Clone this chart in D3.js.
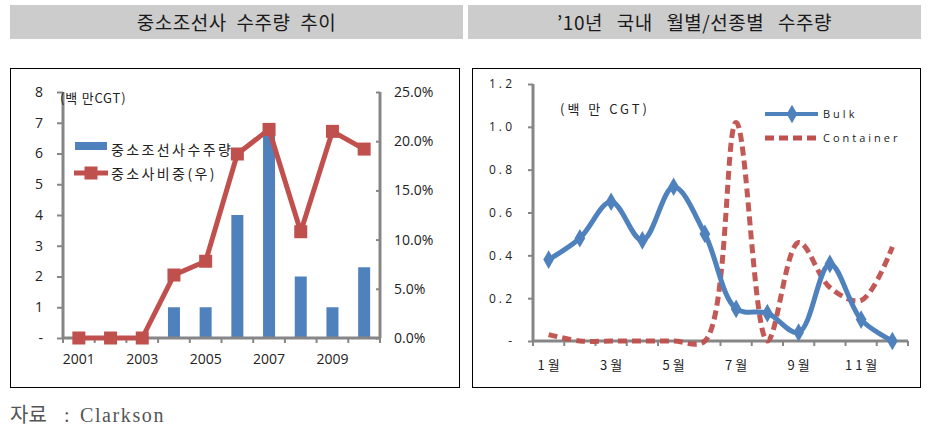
<!DOCTYPE html>
<html><head><meta charset="utf-8">
<script src="https://cdn.jsdelivr.net/npm/d3@7"></script>
<style>body{margin:0;background:#fff}svg{display:block}</style>
</head><body>
<script>
// ---- Data: left chart ----
const years = ["2001","2002","2003","2004","2005","2006","2007","2008","2009","2010"];
const yearLabels = ["2001","2003","2005","2007","2009"];
const orderVolume = [0,0,0,1,1,4,6.8,2,1,2.3];           // 백만 CGT
const smallShare = [0,0,0,6.4,7.8,18.7,21.2,10.8,21.0,19.2]; // %
const leftTicks = [0,1,2,3,4,5,6,7,8];
const rightTicks = [0,5,10,15,20,25];
// ---- Data: right chart ----
const months = ["1","2","3","4","5","6","7","8","9","10","11","12"];
const monthLabels = ["1","3","5","7","9","11"];
const bulk = [0.38,0.48,0.65,0.47,0.72,0.50,0.15,0.13,0.04,0.36,0.10,0.00];
const container = [0.03,0.00,0.00,0.00,0.00,0.00,1.02,0.00,0.46,0.25,0.19,0.44];
const rTicks = [0,0.2,0.4,0.6,0.8,1.0,1.2];

const W=936,H=436;
const svg=d3.select("body").append("svg").attr("width",W).attr("height",H);
const KR="'Noto Sans CJK KR', 'Noto Sans', sans-serif";
const NUM="'Open Sans','Liberation Sans',sans-serif";
const blue="#4F81BD", red="#C0504D", axisC="#868686";

// Titles
function titleBox(x,w,txt,ws){
  svg.append("rect").attr("x",x).attr("y",5).attr("width",w).attr("height",34).attr("fill","#cccccc");
  svg.append("text").attr("x",x+w/2).attr("y",30).attr("text-anchor","middle")
    .attr("font-family",KR).attr("font-size",19).attr("letter-spacing",0.5).attr("word-spacing",ws)
    .attr("fill","#1a1a1a").text(txt);
}
titleBox(10,453,"중소조선사 수주량 추이",5);
titleBox(468,453,"’10년 국내 월별/선종별 수주량",9);

// Frames
svg.append("rect").attr("x",10.5).attr("y",68.5).attr("width",449).attr("height",319).attr("fill","none").attr("stroke","#000").attr("stroke-width",1);
svg.append("rect").attr("x",472.5).attr("y",68.5).attr("width",448).attr("height",319).attr("fill","none").attr("stroke","#000").attr("stroke-width",1);

// ---------- Left chart ----------
const L = svg.append("g");
const xb = d3.scaleBand().domain(years).range([63,380]);
const yL = d3.scaleLinear().domain([0,8]).range([338,92]);
const yR = d3.scaleLinear().domain([0,25]).range([338,92]);

// bars
L.selectAll("rect.bar").data(years).join("rect")
  .attr("x",d=>xb(d)+xb.bandwidth()/2-6).attr("width",12)
  .attr("y",(d,i)=>yL(orderVolume[i])).attr("height",(d,i)=>yL(0)-yL(orderVolume[i]))
  .attr("fill",blue);

// left axis
const axL = d3.axisLeft(yL).tickValues(leftTicks).tickSize(6).tickPadding(14)
  .tickFormat(d=>d===0?"-":d);
const gL=L.append("g").attr("transform","translate(63,0)").call(axL);
gL.select(".domain").attr("stroke",axisC).attr("stroke-width",3).attr("d","M0,92V338");
gL.selectAll(".tick line").attr("stroke",axisC).attr("stroke-width",2);
gL.selectAll(".tick text").attr("font-family",NUM).attr("font-size",14).attr("fill","#222");

// right axis
const axR = d3.axisRight(yR).tickValues(rightTicks).tickSize(-4).tickPadding(14)
  .tickFormat(d=>d3.format(".1f")(d)+"%");
const gR=L.append("g").attr("transform","translate(380,0)").call(axR);
gR.select(".domain").attr("stroke",axisC).attr("stroke-width",3).attr("d","M0,92V338");
gR.selectAll(".tick line").attr("stroke",axisC).attr("stroke-width",2);
gR.selectAll(".tick text").attr("font-family",NUM).attr("font-size",14).attr("fill","#222");

// x axis
const axX = d3.axisBottom(xb).tickValues(years).tickSize(0).tickPadding(16)
  .tickFormat(d=>yearLabels.includes(d)?d:"");
const gX=L.append("g").attr("transform","translate(0,338)").call(axX);
gX.select(".domain").attr("stroke",axisC).attr("stroke-width",3).attr("d","M63,0H380");
gX.selectAll(".tick text").attr("font-family",NUM).attr("font-size",14).attr("fill","#222");
L.append("g").selectAll("line").data(years.concat(["end"])).join("line")
  .attr("x1",(d,i)=>63+i*xb.bandwidth()).attr("x2",(d,i)=>63+i*xb.bandwidth())
  .attr("y1",338).attr("y2",343).attr("stroke",axisC).attr("stroke-width",2);

// line
const lineL=d3.line().x((d,i)=>xb(years[i])+xb.bandwidth()/2).y(d=>yR(d));
L.append("path").datum(smallShare).attr("d",lineL).attr("fill","none").attr("stroke",red).attr("stroke-width",5).attr("stroke-linejoin","round");
L.selectAll("rect.mk").data(smallShare).join("rect")
  .attr("x",(d,i)=>xb(years[i])+xb.bandwidth()/2-6.5).attr("y",d=>yR(d)-6.5)
  .attr("width",13).attr("height",13).attr("fill",red);

// unit label & legend
L.append("text").attr("x",60).attr("y",103).attr("font-family",KR).attr("font-size",13).attr("letter-spacing",0.8).attr("fill","#222").text("(백 만CGT)");
L.append("rect").attr("x",75).attr("y",142).attr("width",32).attr("height",8).attr("fill",blue);
L.append("text").attr("x",111).attr("y",155).attr("font-family",KR).attr("font-size",14).attr("letter-spacing",2.4).attr("fill","#222").text("중소조선사수주량");
L.append("line").attr("x1",74).attr("x2",108).attr("y1",173).attr("y2",173).attr("stroke",red).attr("stroke-width",5);
L.append("rect").attr("x",84.5).attr("y",166.5).attr("width",13).attr("height",13).attr("fill",red);
L.append("text").attr("x",111).attr("y",179).attr("font-family",KR).attr("font-size",14).attr("letter-spacing",2.4).attr("fill","#222").text("중소사비중(우)");

// ---------- Right chart ----------
const R = svg.append("g");
const xm = d3.scaleBand().domain(months).range([533,908]);
const yM = d3.scaleLinear().domain([0,1.2]).range([341,84]);
const axM = d3.axisLeft(yM).tickValues(rTicks).tickSize(5).tickPadding(16)
  .tickFormat(d=>d===0?"-":d3.format(".1f")(d).split("").join(" "));
const gM=R.append("g").attr("transform","translate(533,0)").call(axM);
gM.select(".domain").attr("stroke",axisC).attr("stroke-width",3).attr("d","M0,84V341");
gM.selectAll(".tick line").attr("stroke",axisC).attr("stroke-width",2);
gM.selectAll(".tick text").attr("font-family",NUM).attr("font-size",12).attr("fill","#222");

const axMX = d3.axisBottom(xm).tickValues(months).tickSize(0).tickPadding(20)
  .tickFormat(d=>monthLabels.includes(d)?d.split("").join(" ")+" 월":"");
const gMX=R.append("g").attr("transform","translate(0,341)").call(axMX);
gMX.select(".domain").attr("stroke",axisC).attr("stroke-width",3).attr("d","M533,0H908");
gMX.selectAll(".tick text").attr("font-family",KR).attr("font-size",13).attr("fill","#222");
R.append("g").selectAll("line").data(months.concat(["end"])).join("line")
  .attr("x1",(d,i)=>533+i*xm.bandwidth()).attr("x2",(d,i)=>533+i*xm.bandwidth())
  .attr("y1",341).attr("y2",346).attr("stroke",axisC).attr("stroke-width",2);

const lineM=d3.line().x((d,i)=>xm(months[i])+xm.bandwidth()/2).y(d=>yM(d)).curve(d3.curveCatmullRom.alpha(0.5));
R.append("path").datum(container).attr("d",lineM).attr("fill","none").attr("stroke",red).attr("stroke-width",5).attr("stroke-dasharray","9,5").attr("opacity",0.95);
R.append("path").datum(bulk).attr("d",lineM).attr("fill","none").attr("stroke",blue).attr("stroke-width",5).attr("stroke-linejoin","round");
const sym=d3.symbol().type(d3.symbolDiamond).size(100);
R.selectAll("path.dm").data(bulk).join("path")
  .attr("transform",(d,i)=>`translate(${xm(months[i])+xm.bandwidth()/2},${yM(d)})`)
  .attr("d",sym).attr("fill",blue);

R.append("text").attr("x",560).attr("y",114).attr("font-family",KR).attr("font-size",13).attr("letter-spacing",3).attr("fill","#222").text("(백 만 CGT)");
R.append("line").attr("x1",765).attr("x2",818).attr("y1",114).attr("y2",114).attr("stroke",blue).attr("stroke-width",4);
R.append("path").attr("transform","translate(792,114)").attr("d",sym).attr("fill",blue);
R.append("text").attr("x",823).attr("y",118).attr("font-family",NUM).attr("font-size",11).attr("letter-spacing",3).attr("fill","#222").text("Bulk");
R.append("line").attr("x1",765).attr("x2",818).attr("y1",138).attr("y2",138).attr("stroke",red).attr("stroke-width",5).attr("stroke-dasharray","9,5");
R.append("text").attr("x",823).attr("y",142).attr("font-family",NUM).attr("font-size",11).attr("letter-spacing",3).attr("fill","#222").text("Container");

// footer
const ft=svg.append("text").attr("y",422).attr("font-family","'Liberation Serif','Noto Sans CJK KR',serif").attr("font-size",20).attr("fill","#555");
ft.append("tspan").attr("x",10).text("자료");
ft.append("tspan").attr("x",64).text(":");
ft.append("tspan").attr("x",80).attr("letter-spacing",1.6).text("Clarkson");
</script>
</body></html>
